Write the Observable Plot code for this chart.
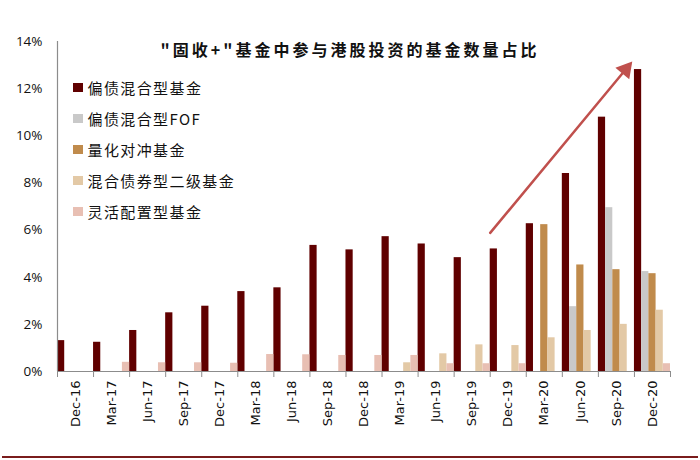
<!DOCTYPE html>
<html><head><meta charset="utf-8">
<script src="https://cdn.jsdelivr.net/npm/d3@7"></script>
<script src="https://cdn.jsdelivr.net/npm/@observablehq/plot@0.6"></script>
<style>
body{margin:0;background:#fff;overflow:hidden}
#wrap{position:relative;width:700px;height:460px}
#chart{position:absolute;left:0;top:0}
#title{position:absolute;left:0;width:700px;top:39px;line-height:20px;text-align:center;font-family:"Noto Sans CJK SC";font-weight:700;font-size:16px;letter-spacing:3px;color:#111}
#legend{position:absolute;left:73px;top:72px;font-family:"Noto Sans CJK SC";font-size:15px;letter-spacing:1.4px;color:#111}
.item{height:31px;display:flex;align-items:center}
.sw{width:9.5px;height:9.5px;margin-right:5px;flex:none}
#rule{position:absolute;left:2px;width:696px;top:456px;height:2px;background:#7a1c1c}
</style></head>
<body>
<div id="wrap">
  <div id="chart"></div>
  <div id="title"></div>
  <div id="legend"></div>
  <div id="rule"></div>
</div>
<script>
const title = "\"固收+\"基金中参与港股投资的基金数量占比";
const quarters = ["Dec-16","Mar-17","Jun-17","Sep-17","Dec-17","Mar-18","Jun-18","Sep-18","Dec-18","Mar-19","Jun-19","Sep-19","Dec-19","Mar-20","Jun-20","Sep-20","Dec-20"];
const seriesNames = ["偏债混合型基金","偏债混合型FOF","量化对冲基金","混合债券型二级基金","灵活配置型基金"];
const seriesColors = ["#600000","#c9c9c9","#c08b4c","#e3c9a6","#e8bfb3"];
// values in %
const pianZhai   = [1.31,1.24,1.74,2.49,2.77,3.39,3.55,5.35,5.16,5.72,5.41,4.83,5.20,6.27,8.40,10.79,12.81];
const fof        = [0,0,0,0,0,0,0,0,0,0,0,0,0,0,2.75,6.95,4.24];
const lianghua   = [0,0,0,0,0,0,0,0,0,0,0,0,0,6.23,4.52,4.32,4.15];
const erji       = [0,0,0,0,0,0,0,0,0,0.37,0.75,1.13,1.10,1.43,1.74,2.00,2.60];
const linghuo    = [0,0.39,0.37,0.37,0.35,0.72,0.71,0.68,0.68,0.68,0.33,0.33,0.33,0,0,0,0.33];
const yTicks = [0,2,4,6,8,10,12,14];
// trend arrow annotation (x in quarter-index units, y in %)
const arrowData = [{x1: 12.0, y1: 5.88, x2: 15.94, y2: 13.15}];

const seriesValues = [pianZhai, fof, lianghua, erji, linghuo];
const rows = [];
seriesValues.forEach((vals, j) => vals.forEach((v, i) => {
  if (v > 0) rows.push({q: i, s: j, series: seriesNames[j], v});
}));

const W = 700, H = 460, mL = 57, mR = 30, mT = 41, mB = 89;
const n = quarters.length;
const pxX = (W - mL - mR) / n, pxY = (H - mT - mB) / 14;
const a = arrowData[0];
const ddx = (a.x2 - a.x1) * pxX, ddy = (a.y2 - a.y1) * pxY;
const ang = Math.atan2(ddx, ddy);
const headR = 6.7;
const half = headR * Math.sqrt(Math.PI / (3 * Math.sqrt(3)));
const tipOff = 2 * half;

const plot = Plot.plot({
  width: W, height: H,
  marginLeft: mL, marginRight: mR, marginTop: mT, marginBottom: mB,
  x: {domain: [0, n]},
  y: {domain: [0, 14]},
  color: {domain: seriesNames, range: seriesColors},
  style: {fontFamily: "DejaVu Sans", fontSize: "13px", color: "#111"},
  marks: [
    Plot.rectY(rows, {x1: d => d.q + d.s / 5, x2: d => d.q + (d.s + 1) / 5, y: "v", fill: "series", inset: 0}),
    Plot.ruleY([0], {stroke: "#8c8c8c", strokeWidth: 1.2}),
    Plot.ruleX([0], {stroke: "#8c8c8c", strokeWidth: 1.2}),
    Plot.axisY({ticks: yTicks, tickFormat: d => d + "%", tickSize: 0, tickPadding: 15, fontFamily: "Open Sans", fontSize: 13.5, label: null}),
    Plot.axisX({ticks: d3.range(n + 1), tickFormat: () => "", tickSize: 6, stroke: "#8c8c8c", label: null}),
    Plot.axisX({ticks: d3.range(n).map(i => i + 0.5), tickFormat: d => quarters[Math.floor(d)], tickSize: 0, tickPadding: 9, tickRotate: -90, fontSize: 13, label: null}),
    Plot.arrow(arrowData, {x1: "x1", y1: "y1", x2: "x2", y2: "y2", stroke: "#c0504d", strokeWidth: 2.5, headLength: 0, insetEnd: 12}),
    Plot.dot(arrowData, {x: "x2", y: "y2", symbol: "triangle", r: headR, fill: "#c0504d", stroke: "none",
      rotate: ang * 180 / Math.PI, dx: -tipOff * Math.sin(ang), dy: tipOff * Math.cos(ang)})
  ]
});
document.getElementById("chart").appendChild(plot);
document.getElementById("title").textContent = title;
const lg = document.getElementById("legend");
seriesNames.forEach((name, j) => {
  const it = document.createElement("div");
  it.className = "item";
  const sw = document.createElement("span");
  sw.className = "sw";
  sw.style.background = seriesColors[j];
  const tx = document.createElement("span");
  tx.textContent = name;
  it.appendChild(sw); it.appendChild(tx);
  lg.appendChild(it);
});
</script>
</body></html>
